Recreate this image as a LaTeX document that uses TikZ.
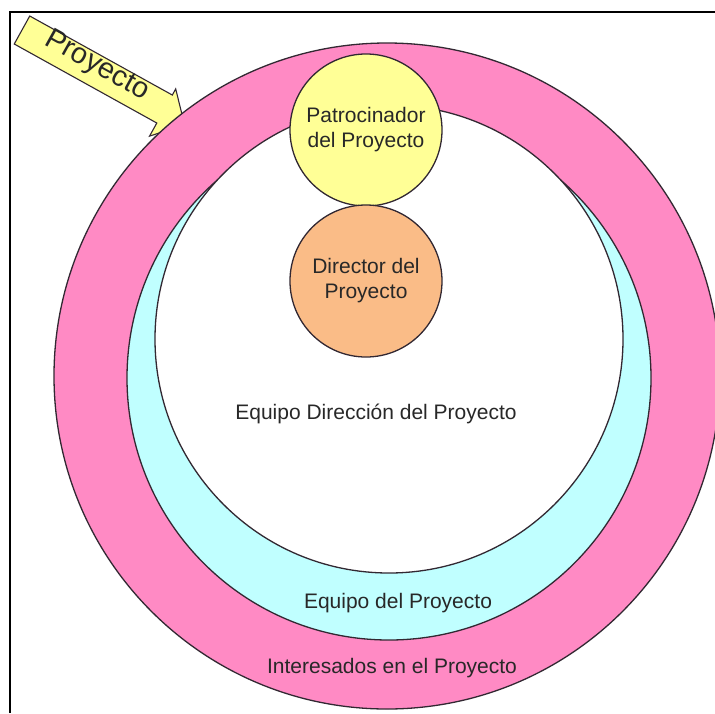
\documentclass[tikz,border=0pt]{standalone}
\usepackage{fontspec}
\setmainfont{Liberation Sans}
\definecolor{pinkc}{RGB}{255,138,196}
\definecolor{cyanc}{RGB}{192,255,255}
\definecolor{yelc}{RGB}{255,255,150}
\definecolor{orac}{RGB}{250,188,135}
\definecolor{txt}{RGB}{40,40,40}
\definecolor{edge}{RGB}{50,40,50}
\begin{document}
\begin{tikzpicture}[x=1pt,y=-1pt,
  ring/.style={draw=edge,line width=1.3pt},
  lbl/.style={text=txt,font=\fontsize{21}{25}\selectfont,align=center},
  smallc/.style={circle,draw=edge,line width=1.3pt,minimum size=152pt,inner sep=0pt,text=txt,font=\fontsize{21}{25}\selectfont,align=center}]
\useasboundingbox (0,0) rectangle (715,713);
\fill[white] (0,0) rectangle (715,713);
% arrow
\begin{scope}[shift={(22,30)},rotate=-29]
  \draw[ring,fill=yelc,line width=1.1pt] (0,-16) -- (163,-16) -- (163,-23) -- (188,4) -- (163,31) -- (163,16) -- (0,16) -- cycle;
\end{scope}
\node[text=txt,font=\fontsize{29}{29}\selectfont,rotate=-29] (proy) at (97,66) {Proyecto};
% frame
\draw[line width=2pt,black] (10,713) -- (10,12) -- (715,12);
% rings
\draw[ring,fill=pinkc] (387,376) circle[radius=333pt];
\draw[ring,fill=cyanc] (389,378) circle[radius=262pt];
\draw[ring,fill=white] (389,339) circle[radius=234pt];
\node[smallc,fill=yelc] (patro) at (366,130) {Patrocinador\\del Proyecto};
\node[smallc,fill=orac] (dir) at (366,281) {Director del\\Proyecto};
\node[lbl] (edp) at (376,414) {Equipo Dirección del Proyecto};
\node[lbl] (ep) at (398,603) {Equipo del Proyecto};
\node[lbl] (int) at (392,668) {Interesados en el Proyecto};
\end{tikzpicture}
\end{document}
